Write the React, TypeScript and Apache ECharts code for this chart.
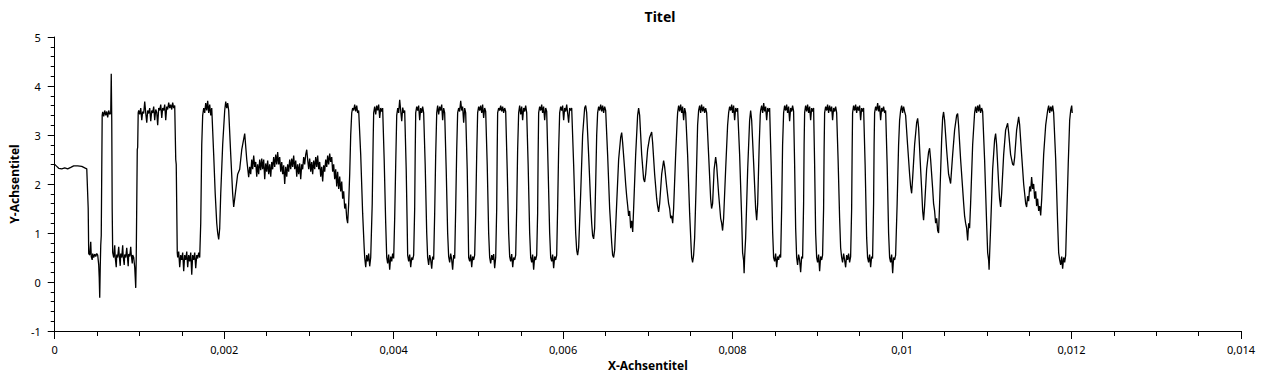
import React, { useEffect, useRef } from "react";
import * as echarts from "echarts";

const chartTitle = "Titel";
const xAxisTitle = "X-Achsentitel";
const yAxisTitle = "Y-Achsentitel";

const xTickValues = [0, 0.002, 0.004, 0.006, 0.008, 0.01, 0.012, 0.014];
const yTickValues = [-1, 0, 1, 2, 3, 4, 5];

// samples: [time in µs, voltage]
const leadInUs: [number, number][] = [
  [0, 2.4], [24, 2.36], [47, 2.32], [83, 2.31], [118, 2.33], [153, 2.31], [189, 2.34], [224, 2.37], [271, 2.37],
  [319, 2.36], [354, 2.33], [378, 2.31], [395, 1.5], [401, 0.58], [413, 0.55], [425, 0.82], [431, 0.52], [442, 0.45],
  [448, 0.58], [460, 0.5], [472, 0.57], [484, 0.52], [496, 0.58], [507, 0.55], [519, 0.35], [525, 0.1], [531, -0.32],
  [537, 0.3], [543, 0.75], [549, 0.95], [560, 3.4], [566, 3.47], [578, 3.38], [590, 3.5], [602, 3.4], [614, 3.48],
  [625, 3.36], [637, 3.5], [649, 3.42], [661, 3.45], [667, 4.25], [673, 3.3], [678, 1.5], [684, 0.6],
  [696, 0.5], [708, 0.75], [714, 0.5], [726, 0.3], [732, 0.56], [743, 0.5], [755, 0.72], [761, 0.55], [773, 0.33],
  [779, 0.58], [791, 0.5], [802, 0.75], [808, 0.52], [820, 0.35], [826, 0.56], [838, 0.5], [850, 0.7], [856, 0.55],
  [867, 0.32], [873, 0.57], [885, 0.52], [897, 0.72], [903, 0.56], [915, 0.38], [920, 0.55], [932, 0.5], [944, 0.3],
  [950, 0.1], [956, -0.12], [962, 0.5], [974, 2.7], [979, 2.75], [985, 3.45],
  [991, 3.5], [1003, 3.42], [1015, 3.55], [1027, 3.3], [1038, 3.48], [1050, 3.44], [1062, 3.68], [1074, 3.45],
  [1086, 3.25], [1097, 3.5], [1109, 3.44], [1121, 3.55], [1133, 3.28], [1145, 3.5], [1156, 3.45], [1168, 3.58],
  [1180, 3.3], [1192, 3.52], [1204, 3.46], [1215, 3.2], [1227, 3.55], [1239, 3.5], [1251, 3.62], [1263, 3.35],
  [1274, 3.55], [1286, 3.5], [1298, 3.62], [1310, 3.3], [1322, 3.58], [1333, 3.52], [1345, 3.66], [1357, 3.55],
  [1369, 3.62], [1381, 3.52], [1392, 3.66], [1404, 3.55], [1416, 3.6], [1428, 2.5], [1434, 2.4], [1446, 0.6],
  [1451, 0.5], [1463, 0.62], [1475, 0.3], [1487, 0.55], [1499, 0.45], [1510, 0.6], [1522, 0.22], [1534, 0.55],
  [1546, 0.45], [1558, 0.62], [1569, 0.3], [1581, 0.55], [1593, 0.42], [1605, 0.6], [1617, 0.15], [1628, 0.55],
  [1640, 0.45], [1652, 0.6], [1664, 0.28], [1676, 0.55], [1687, 0.48], [1699, 0.6], [1711, 0.5], [1723, 1.2],
  [1735, 2.8], [1746, 3.4], [1758, 3.55], [1770, 3.45], [1782, 3.65], [1794, 3.5], [1805, 3.7], [1817, 3.45],
  [1829, 3.62], [1841, 3.4], [1853, 3.55], [1876, 2.6], [1894, 1.8], [1912, 1.2], [1923, 1.0], [1935, 0.87],
  [1947, 1.1], [1959, 1.8], [1982, 2.8], [2006, 3.5], [2018, 3.68], [2030, 3.55], [2041, 3.65], [2053, 3.5],
  [2077, 2.6], [2100, 1.8], [2112, 1.53], [2124, 1.7], [2159, 2.2], [2183, 2.3], [2207, 2.7], [2242, 3.03],
  [2266, 2.5], [2289, 2.14],
];

const noisyHoldUs: [number, number][] = [
  [2301, 2.35], [2313, 2.2], [2325, 2.5], [2336, 2.3], [2348, 2.58], [2360, 2.35], [2372, 2.45], [2384, 2.15],
  [2395, 2.4], [2407, 2.2], [2419, 2.5], [2431, 2.28], [2443, 2.52], [2454, 2.3], [2466, 2.5], [2478, 2.1],
  [2490, 2.42], [2502, 2.25], [2513, 2.48], [2525, 2.2], [2537, 2.4], [2549, 2.15], [2561, 2.45], [2572, 2.3],
  [2584, 2.55], [2596, 2.35], [2608, 2.6], [2620, 2.4], [2631, 2.65], [2643, 2.4], [2655, 2.55], [2667, 2.25],
  [2679, 2.45], [2690, 2.2], [2702, 2.38], [2714, 2.0], [2726, 2.35], [2738, 2.15], [2749, 2.4], [2761, 2.25],
  [2773, 2.5], [2785, 2.3], [2797, 2.52], [2808, 2.35], [2820, 2.58], [2832, 2.3], [2844, 2.48], [2856, 2.15],
  [2867, 2.4], [2879, 2.2], [2891, 2.42], [2903, 2.1], [2915, 2.4], [2926, 2.3], [2938, 2.55], [2950, 2.4],
  [2962, 2.6], [2974, 2.7], [2985, 2.5], [2997, 2.3], [3009, 2.52], [3021, 2.25], [3033, 2.45], [3044, 2.2],
  [3056, 2.48], [3068, 2.3], [3080, 2.55], [3092, 2.35], [3103, 2.58], [3115, 2.3], [3127, 2.45], [3139, 2.15],
  [3151, 2.35], [3162, 2.05], [3174, 2.38], [3186, 2.25], [3198, 2.5], [3210, 2.35], [3221, 2.58], [3233, 2.4],
  [3245, 2.62], [3257, 2.45], [3269, 2.55], [3280, 2.25], [3292, 2.4], [3304, 2.1], [3316, 2.3], [3328, 1.95],
  [3339, 2.25], [3351, 1.9], [3363, 2.15], [3375, 1.85], [3387, 2.05], [3398, 1.7], [3410, 1.85], [3422, 1.5],
  [3434, 1.6], [3446, 1.3], [3457, 1.2], [3469, 1.6],
];

const squareBurstUs: [number, number][] = [
  [3481, 2.2], [3493, 3.0], [3505, 3.45], [3516, 3.55], [3528, 3.5], [3540, 3.62], [3552, 3.48], [3564, 3.6],
  [3575, 3.45], [3587, 3.5], [3611, 2.6], [3634, 1.4], [3652, 0.7],
  [3658, 0.5], [3670, 0.3], [3682, 0.55], [3693, 0.42], [3705, 0.58], [3717, 0.32], [3729, 0.5], [3747, 1.6], [3758, 2.9],
  [3764, 3.45], [3776, 3.58], [3788, 3.42], [3800, 3.6], [3811, 3.5], [3823, 3.62], [3835, 3.35], [3847, 3.55],
  [3859, 3.48], [3870, 3.55], [3888, 2.5], [3906, 1.2],
  [3918, 0.5], [3929, 0.38], [3941, 0.56], [3953, 0.25], [3965, 0.52], [3977, 0.42], [3988, 0.58], [4000, 0.48],
  [4012, 1.3], [4024, 2.4],
  [4036, 3.4], [4048, 3.55], [4059, 3.45], [4071, 3.72], [4083, 3.5], [4095, 3.28], [4107, 3.56], [4118, 3.45],
  [4130, 3.5], [4148, 2.3], [4160, 1.1],
  [4165, 0.55], [4177, 0.42], [4189, 0.56], [4201, 0.3], [4213, 0.5], [4224, 0.45], [4236, 0.55], [4248, 1.5], [4254, 2.6],
  [4260, 3.45], [4272, 3.58], [4283, 3.5], [4295, 3.6], [4307, 3.3], [4319, 3.55], [4331, 3.45], [4342, 3.58],
  [4354, 3.45], [4372, 2.4], [4390, 1.0],
  [4401, 0.5], [4413, 0.35], [4425, 0.55], [4437, 0.45], [4449, 0.27], [4460, 0.52], [4472, 0.46], [4484, 1.4], [4496, 2.6],
  [4508, 3.45], [4519, 3.6], [4531, 3.42], [4543, 3.58], [4555, 3.5], [4567, 3.62], [4578, 3.3], [4590, 3.55],
  [4602, 3.45], [4620, 2.3], [4637, 1.0],
  [4649, 0.52], [4661, 0.4], [4673, 0.58], [4685, 0.45], [4696, 0.25], [4708, 0.55], [4720, 0.48], [4732, 1.5], [4744, 2.7],
  [4755, 3.45], [4767, 3.55], [4779, 3.48], [4791, 3.7], [4803, 3.5], [4814, 3.58], [4826, 3.25], [4838, 3.55],
  [4850, 3.45], [4868, 2.3], [4879, 1.2],
  [4885, 0.5], [4897, 0.42], [4909, 0.56], [4921, 0.3], [4932, 0.52], [4944, 0.45], [4956, 0.55], [4968, 1.4], [4980, 2.6],
  [4991, 3.45], [5003, 3.58], [5015, 3.5], [5027, 3.6], [5039, 3.45], [5050, 3.62], [5062, 3.35], [5074, 3.55],
  [5086, 3.48], [5104, 2.4], [5121, 1.0],
  [5133, 0.5], [5145, 0.38], [5157, 0.55], [5168, 0.45], [5180, 0.57], [5192, 0.28], [5204, 0.5], [5216, 1.5], [5222, 2.7],
  [5227, 3.45], [5239, 3.55], [5251, 3.5], [5263, 3.6], [5275, 3.48], [5286, 3.58], [5298, 3.45], [5310, 3.55],
  [5322, 3.48], [5340, 2.3], [5357, 1.0],
  [5369, 0.52], [5381, 0.42], [5393, 0.57], [5405, 0.3], [5416, 0.5], [5428, 0.45], [5440, 0.55], [5452, 1.5], [5463, 2.7],
  [5475, 3.45], [5487, 3.6], [5499, 3.42], [5511, 3.58], [5522, 3.3], [5534, 3.55], [5546, 3.48], [5558, 3.6],
  [5570, 3.45], [5587, 2.4], [5605, 1.0],
  [5617, 0.5], [5629, 0.4], [5640, 0.56], [5652, 0.25], [5664, 0.52], [5676, 0.45], [5688, 0.55], [5699, 1.4], [5705, 2.6],
  [5711, 3.45], [5723, 3.58], [5735, 3.5], [5747, 3.62], [5758, 3.45], [5770, 3.58], [5782, 3.3], [5794, 3.55],
  [5806, 3.48], [5823, 2.3], [5841, 1.0],
  [5853, 0.5], [5865, 0.42], [5876, 0.56], [5888, 0.28], [5900, 0.52], [5912, 0.45], [5924, 0.55], [5935, 1.5], [5947, 2.7],
  [5959, 3.45], [5971, 3.58], [5983, 3.5], [5994, 3.6], [6006, 3.3], [6018, 3.55], [6030, 3.48], [6042, 3.62],
  [6053, 3.45], [6065, 3.25], [6077, 3.55], [6089, 3.5], [6101, 3.55],
];

const irregularBurstUs: [number, number][] = [
  [6124, 2.4], [6148, 1.0], [6160, 0.65], [6171, 0.55], [6183, 0.7], [6207, 1.8], [6230, 3.0], [6254, 3.55],
  [6266, 3.6], [6278, 3.45], [6301, 2.6], [6325, 1.6], [6337, 1.2], [6348, 0.95], [6360, 0.88], [6372, 1.1],
  [6384, 2.0], [6396, 3.0], [6407, 3.45],
  [6419, 3.58], [6431, 3.5], [6443, 3.62], [6455, 3.48], [6466, 3.6], [6478, 3.45], [6490, 3.58], [6502, 3.5],
  [6525, 2.6], [6549, 1.5], [6573, 0.8], [6584, 0.55], [6596, 0.5], [6608, 0.65], [6632, 1.6], [6655, 2.5],
  [6679, 2.95], [6691, 3.05], [6702, 2.85], [6726, 2.3], [6738, 2.0], [6750, 1.75], [6762, 1.55], [6773, 1.35],
  [6785, 1.45], [6797, 1.1], [6809, 1.25], [6821, 1.02], [6832, 1.5], [6856, 2.6], [6879, 3.4], [6891, 3.55],
  [6903, 3.4], [6927, 2.6], [6950, 2.1], [6962, 2.04], [6974, 2.2], [6997, 2.7], [7021, 2.95], [7045, 3.06],
  [7056, 2.85], [7080, 2.2], [7104, 1.7], [7115, 1.55], [7127, 1.43], [7139, 1.6], [7163, 2.2], [7186, 2.48],
  [7198, 2.35], [7222, 1.95], [7245, 1.6], [7257, 1.5], [7269, 1.3], [7281, 1.35], [7293, 1.2], [7304, 1.5],
  [7328, 2.6], [7346, 3.3],
  [7351, 3.45], [7363, 3.6], [7375, 3.48], [7387, 3.62], [7399, 3.45], [7410, 3.58], [7422, 3.3], [7434, 3.55],
  [7446, 3.45], [7469, 2.6], [7493, 1.4], [7511, 0.7], [7517, 0.5], [7528, 0.4], [7540, 0.55], [7552, 0.9],
  [7570, 2.0], [7587, 3.2],
  [7599, 3.5], [7611, 3.6], [7623, 3.45], [7634, 3.62], [7646, 3.48], [7658, 3.58], [7670, 3.45], [7682, 3.55],
  [7694, 3.45], [7717, 2.6], [7741, 1.7], [7752, 1.5], [7764, 1.6], [7782, 2.3], [7800, 2.55], [7811, 2.4],
  [7835, 1.8], [7847, 1.55], [7859, 1.3], [7871, 1.2], [7882, 1.05], [7894, 1.3], [7918, 2.3], [7941, 3.2],
  [7953, 3.45], [7965, 3.58], [7977, 3.5], [7989, 3.62], [8000, 3.45], [8012, 3.6], [8024, 3.3], [8036, 3.55],
  [8048, 3.48], [8059, 3.55], [8083, 2.6], [8107, 1.3], [8118, 0.6], [8130, 0.44], [8136, 0.18], [8142, 0.5],
  [8154, 0.9], [8178, 2.3], [8201, 3.3], [8213, 3.5], [8225, 3.3], [8249, 2.4], [8272, 1.5], [8284, 1.26],
  [8296, 1.6], [8314, 2.8], [8326, 3.4],
];

const secondBurstUs: [number, number][] = [
  [8331, 3.5], [8343, 3.6], [8355, 3.45], [8367, 3.65], [8378, 3.48], [8390, 3.58], [8402, 3.3], [8414, 3.55],
  [8426, 3.48], [8437, 3.55], [8455, 2.4], [8473, 1.0],
  [8484, 0.5], [8496, 0.42], [8508, 0.58], [8520, 0.3], [8532, 0.52], [8543, 0.45], [8555, 0.56], [8567, 0.5],
  [8579, 1.5], [8590, 2.8],
  [8602, 3.45], [8614, 3.6], [8626, 3.5], [8638, 3.62], [8649, 3.45], [8661, 3.58], [8673, 3.28], [8685, 3.55],
  [8697, 3.48], [8708, 3.6], [8720, 3.48], [8732, 2.4], [8744, 1.1],
  [8756, 0.5], [8767, 0.35], [8779, 0.56], [8791, 0.45], [8803, 0.2], [8815, 0.52], [8826, 0.48], [8838, 1.6], [8844, 2.8],
  [8850, 3.45], [8862, 3.6], [8874, 3.48], [8885, 3.62], [8897, 3.45], [8909, 3.58], [8921, 3.3], [8933, 3.55],
  [8944, 3.48], [8956, 3.55], [8968, 2.4], [8980, 1.0],
  [8992, 0.5], [9003, 0.4], [9015, 0.56], [9027, 0.22], [9039, 0.52], [9051, 0.45], [9062, 0.55], [9074, 1.5], [9080, 2.7],
  [9086, 3.45], [9098, 3.58], [9110, 3.5], [9121, 3.62], [9133, 3.45], [9145, 3.6], [9157, 3.48], [9169, 3.58],
  [9180, 3.3], [9192, 3.55], [9204, 3.48], [9216, 3.58], [9228, 3.45], [9245, 2.5], [9263, 1.3], [9275, 0.7],
  [9287, 0.5], [9298, 0.4], [9310, 0.58], [9322, 0.45], [9334, 0.3], [9346, 0.55], [9357, 0.45], [9369, 0.58],
  [9381, 0.4], [9393, 0.52], [9405, 1.5], [9411, 2.7],
  [9416, 3.45], [9428, 3.6], [9440, 3.5], [9452, 3.62], [9464, 3.45], [9475, 3.58], [9487, 3.5], [9499, 3.6],
  [9511, 3.3], [9523, 3.55], [9534, 3.48], [9546, 3.55], [9564, 2.4], [9582, 0.9],
  [9593, 0.5], [9605, 0.4], [9617, 0.56], [9629, 0.3], [9641, 0.52], [9652, 0.48], [9664, 1.6], [9670, 2.8],
  [9676, 3.45], [9688, 3.58], [9700, 3.5], [9712, 3.65], [9723, 3.48], [9735, 3.6], [9747, 3.3], [9759, 3.55],
  [9771, 3.48], [9782, 3.58], [9794, 3.45], [9806, 3.5], [9824, 2.4], [9841, 1.0],
  [9853, 0.5], [9865, 0.4], [9877, 0.56], [9889, 0.18], [9900, 0.5], [9912, 0.45], [9924, 0.55],
];

const tailUs: [number, number][] = [
  [9942, 1.6], [9959, 2.8], [9971, 3.3], [9983, 3.5], [9995, 3.6], [10006, 3.45], [10018, 3.58], [10030, 3.48],
  [10042, 3.4], [10065, 2.8], [10089, 2.2], [10101, 1.95], [10113, 1.81], [10124, 2.1], [10148, 2.8], [10172, 3.25],
  [10184, 3.34], [10195, 3.15], [10219, 2.3], [10231, 1.9], [10243, 1.45], [10254, 1.26], [10266, 1.55],
  [10290, 2.3], [10313, 2.65], [10325, 2.73], [10337, 2.5], [10361, 1.9], [10372, 1.6], [10384, 1.45],
  [10396, 1.2], [10408, 1.3], [10420, 1.05], [10431, 1.0], [10443, 1.6], [10467, 2.9], [10479, 3.35],
  [10490, 3.47], [10502, 3.3], [10526, 2.7], [10549, 2.2], [10573, 2.01], [10597, 2.6], [10620, 3.1],
  [10644, 3.4], [10656, 3.44], [10667, 3.2], [10691, 2.5], [10715, 1.9], [10727, 1.6], [10738, 1.35],
  [10750, 1.2], [10762, 1.1], [10774, 0.85], [10786, 1.2], [10797, 1.1], [10809, 1.6], [10833, 2.8], [10856, 3.45],
  [10868, 3.58], [10880, 3.45], [10892, 3.6], [10904, 3.48], [10915, 3.62], [10927, 3.45], [10939, 3.55], [10951, 3.48],
  [10974, 2.5], [10998, 1.2], [11010, 0.6], [11022, 0.44], [11027, 0.25], [11033, 0.55], [11045, 1.1],
  [11069, 2.3], [11092, 2.9], [11104, 3.03], [11116, 2.8], [11140, 2.0], [11151, 1.7], [11163, 1.53],
  [11175, 1.8], [11199, 2.6], [11222, 3.1], [11246, 3.24], [11258, 3.05], [11281, 2.6], [11305, 2.4],
  [11317, 2.38], [11329, 2.55], [11352, 3.1], [11376, 3.37], [11388, 3.2], [11411, 2.6], [11435, 2.0],
  [11447, 1.8], [11459, 1.6], [11470, 1.53], [11482, 1.75], [11494, 1.65], [11506, 1.95], [11518, 1.85],
  [11529, 2.14], [11541, 1.9], [11553, 2.0], [11565, 1.7], [11577, 1.85], [11588, 1.55], [11600, 1.7],
  [11612, 1.45], [11624, 1.55], [11636, 1.36], [11648, 1.7], [11671, 2.6], [11695, 3.2], [11718, 3.5],
  [11730, 3.6], [11742, 3.45], [11754, 3.58], [11766, 3.48], [11777, 3.6], [11789, 3.45],
  [11813, 2.5], [11836, 1.2], [11848, 0.6], [11860, 0.45], [11872, 0.35], [11884, 0.52], [11895, 0.27],
  [11907, 0.5], [11919, 0.4], [11931, 0.55], [11943, 1.3], [11961, 2.4], [11978, 3.3], [11990, 3.5],
  [12002, 3.6], [12008, 3.45],
];

const fontFamily = "'Noto Sans', 'Open Sans', sans-serif";

function fmtX(v: number): string {
  return String(Number(v.toFixed(6))).replace(".", ",");
}

export default function App() {
  const ref = useRef<HTMLDivElement>(null);

  useEffect(() => {
    if (!ref.current) return;
    const chart = echarts.init(ref.current, undefined, { renderer: "svg" });
    const samples = [
      ...leadInUs,
      ...noisyHoldUs,
      ...squareBurstUs,
      ...irregularBurstUs,
      ...secondBurstUs,
      ...tailUs,
    ].map(([us, v]) => [us / 1e6, v]);

    chart.setOption({
      animation: false,
      backgroundColor: "#ffffff",
      title: {
        text: chartTitle,
        left: 655,
        top: 4,
        textAlign: "center",
        textStyle: { fontFamily, fontSize: 14, fontWeight: "bold", color: "#000" },
      },
      grid: { left: 54, right: 29, top: 37, bottom: 49, containLabel: false },
      xAxis: {
        type: "value",
        min: xTickValues[0],
        max: xTickValues[xTickValues.length - 1],
        interval: xTickValues[1] - xTickValues[0],
        name: xAxisTitle,
        nameLocation: "middle",
        nameGap: 25,
        nameTextStyle: { fontFamily, fontSize: 12, fontWeight: "bold", color: "#000" },
        axisLine: { show: true, onZero: false, lineStyle: { color: "#000", width: 1 } },
        axisTick: { show: true, length: 8, lineStyle: { color: "#000" } },
        minorTick: { show: true, splitNumber: 4, length: 5, lineStyle: { color: "#000" } },
        splitLine: { show: false },
        minorSplitLine: { show: false },
        axisLabel: { fontFamily, fontSize: 11, color: "#000", margin: 13, formatter: fmtX },
      },
      yAxis: {
        type: "value",
        min: yTickValues[0],
        max: yTickValues[yTickValues.length - 1],
        interval: 1,
        name: yAxisTitle,
        nameLocation: "middle",
        nameGap: 21,
        nameTextStyle: { fontFamily, fontSize: 12, fontWeight: "bold", color: "#000" },
        axisLine: { show: true, onZero: false, lineStyle: { color: "#000", width: 1 } },
        axisTick: { show: true, length: 7, lineStyle: { color: "#000" } },
        minorTick: { show: true, splitNumber: 5, length: 4, lineStyle: { color: "#000" } },
        splitLine: { show: false },
        minorSplitLine: { show: false },
        axisLabel: { fontFamily, fontSize: 11, color: "#000", margin: 14 },
      },
      series: [
        {
          type: "line",
          data: samples,
          showSymbol: false,
          symbol: "none",
          lineStyle: { color: "#000", width: 1.3 },
          itemStyle: { color: "#000" },
        },
      ],
    });

    return () => chart.dispose();
  }, []);

  return (
    <div
      ref={ref}
      style={{ position: "fixed", left: 0, top: 0, width: 1270, height: 380, background: "#fff" }}
    />
  );
}
